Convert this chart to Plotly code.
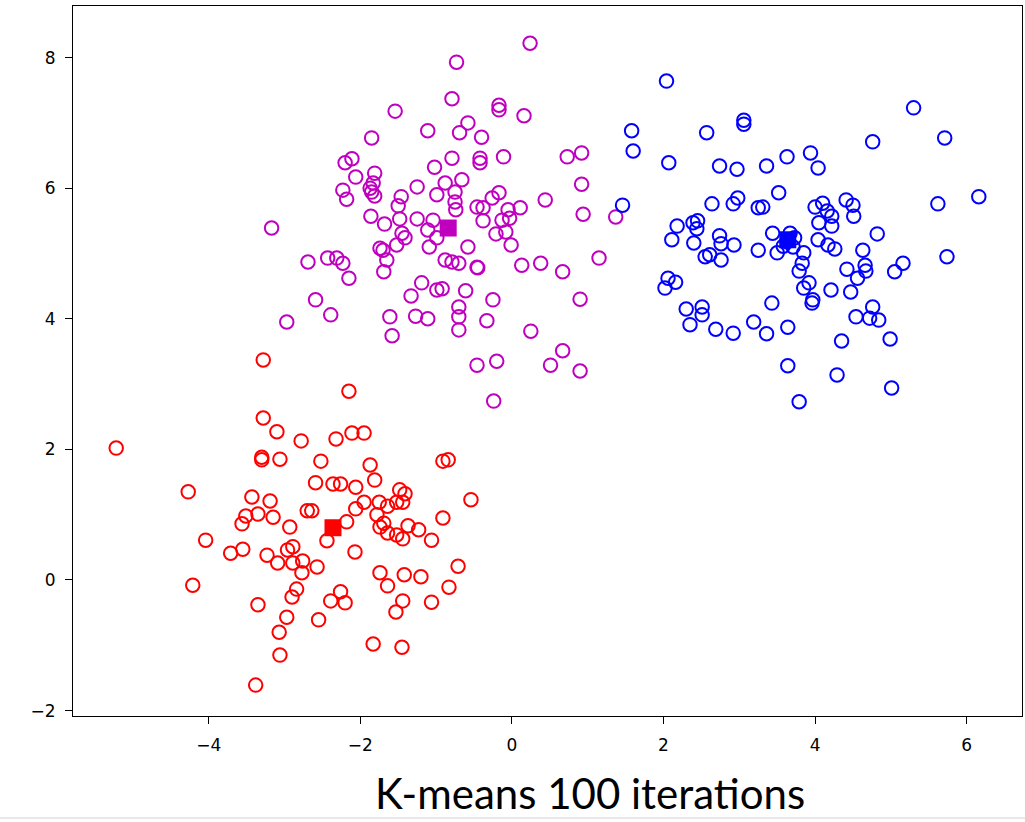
import plotly.graph_objects as go

# Cluster 1 (red)
red_x = [-5.22, -4.27, -4.21, -4.04, -3.71, -3.55, -3.56, -3.51, -3.43, -3.35,
         -3.30, -3.30, -3.28, -3.28, -3.19, -3.15, -3.10, -3.06, -3.23, -3.09,
         -2.96, -2.89, -2.93, -2.89, -2.76, -2.77, -2.57, -2.44, -2.84, -2.90,
         -2.39, -2.26, -2.20, -3.35, -2.97, -2.55, -3.07, -3.06, -3.38, -2.78,
         -2.32, -2.11, -1.95, -2.15, -2.52, -1.87, -2.59, -2.36, -2.26, -2.06,
         -1.81, -0.91, -0.84, -1.48, -1.41, -1.44, -1.52, -1.95, -1.75, -1.64,
         -2.06, -2.70, -2.64, -0.54, -0.91, -1.78, -2.18, -1.74, -1.69, -1.37,
         -1.23, -1.64, -1.52, -1.44, -1.06, -2.07, -1.74, -1.64, -1.42, -1.20,
         -0.71, -0.83, -1.44, -1.53, -1.06, -1.83, -1.45]
red_y = [2.02, 1.35, -0.08, 0.61, 0.41, 0.47, 0.86, 0.98, 1.27, 1.01,
         1.88, 1.84, 3.37, 2.48, 1.21, 0.96, 2.27, 1.85, 0.38, 0.26,
         0.46, 0.51, 0.81, 0.26, 0.29, 0.11, 0.20, 0.60, -0.14, -0.26,
         -0.32, -0.18, -0.35, -0.38, -0.57, -0.61, -0.80, -1.15, -1.61, 2.13,
         2.16, 2.25, 2.25, 2.89, 1.82, 1.76, 1.49, 1.47, 1.47, 1.42,
         1.53, 1.82, 1.84, 1.38, 1.32, 1.19, 1.19, 1.19, 1.19, 1.13,
         1.09, 1.06, 1.06, 1.23, 0.95, 1.00, 0.89, 0.81, 0.87, 0.83,
         0.77, 0.72, 0.69, 0.63, 0.61, 0.43, 0.11, -0.09, 0.08, 0.05,
         0.21, -0.11, -0.32, -0.49, -0.34, -0.98, -1.03]

# Cluster 2 (magenta)
mag_x = [0.24, -0.73, -0.79, -0.17, -0.17, 0.16, -1.54, -1.85, -1.11, -0.58,
         -0.69, -0.40, -2.20, -2.11, -1.81, -1.02, -2.06, -1.83, -1.87, -1.85,
         -1.81, -2.23, -2.18, -1.25, -0.99, -1.46, -1.50, -1.86, -1.68, -1.48,
         -1.25, -1.04, -3.17, -0.79, -0.42, -0.42, -0.11, 0.73, 0.92, -0.88,
         -0.66, -0.75, -0.75, -0.74, -0.46, -0.38, -0.26, -0.17, 0.11, 0.44,
         0.92, -0.05, -0.03, -0.38, -0.13, 0.94, 1.37, -2.69, -2.43, -2.31,
         -2.23, -2.15, -2.59, -2.39, -2.97, -1.45, -1.41, -1.52, -1.74, -1.70,
         -1.65, -1.69, -1.19, -1.33, -0.99, -1.61, -1.27, -1.11, -1.58, -1.11,
         -1.09, -0.99, -0.88, -0.79, -0.70, -0.58, -0.46, -0.45, -0.21, -0.08,
         -0.01, 0.13, 0.38, 0.67, 1.15, -0.92, -0.61, -0.25, 0.90, -0.70,
         -0.70, -0.70, -0.33, 0.25, 0.67, 0.51, 0.90, -0.46, -0.20, -0.24]
mag_y = [8.22, 7.93, 7.37, 7.27, 7.20, 7.11, 7.18, 6.77, 6.88, 7.00,
         6.85, 6.78, 6.39, 6.45, 6.23, 6.32, 6.17, 6.08, 6.00, 5.94,
         5.88, 5.97, 5.83, 6.02, 5.90, 5.87, 5.73, 5.57, 5.45, 5.53,
         5.53, 5.51, 5.39, 6.46, 6.46, 6.39, 6.48, 6.48, 6.54, 6.08,
         6.13, 5.94, 5.79, 5.67, 5.71, 5.70, 5.85, 5.93, 5.70, 5.82,
         6.06, 5.67, 5.54, 5.50, 5.51, 5.60, 5.56, 4.87, 4.93, 4.93,
         4.85, 4.62, 4.29, 4.06, 3.95, 5.31, 5.24, 5.13, 5.08, 5.05,
         4.90, 4.72, 4.55, 4.35, 4.44, 4.03, 4.04, 4.00, 3.74, 5.36,
         5.10, 5.24, 4.90, 4.87, 4.85, 5.10, 4.79, 4.78, 5.30, 5.33,
         5.13, 4.82, 4.85, 4.72, 4.93, 4.46, 4.43, 4.29, 4.30, 4.18,
         4.03, 3.83, 3.97, 3.81, 3.51, 3.29, 3.20, 3.29, 3.35, 2.74]

# Cluster 3 (blue)
blue_x = [2.04, 3.06, 3.06, 1.58, 2.57, 1.60, 2.07, 2.74, 2.97, 3.36,
          3.63, 1.46, 2.64, 2.92, 2.98, 3.25, 3.31, 3.52, 2.18, 2.11,
          2.39, 2.45, 2.44, 2.40, 2.74, 2.76, 2.93, 3.25, 3.44, 2.55,
          2.61, 2.76, 3.50, 5.30, 4.76, 5.71, 3.94, 4.04, 6.16, 5.62,
          4.00, 4.10, 4.16, 4.22, 4.41, 4.50, 4.51, 4.05, 4.22, 4.82,
          3.63, 3.71, 4.04, 4.17, 4.26, 4.63, 3.85, 3.83, 3.79, 4.42,
          4.66, 4.67, 4.56, 5.05, 5.16, 5.74, 3.92, 3.85, 4.21, 4.47,
          2.06, 2.16, 2.02, 2.30, 2.51, 2.51, 2.35, 2.69, 2.92, 3.19,
          3.36, 3.43, 3.64, 3.64, 3.79, 3.96, 3.97, 4.76, 4.54, 4.72,
          4.84, 4.35, 4.99, 4.29, 5.01, 3.67, 3.73, 3.58]
blue_y = [7.64, 7.04, 6.98, 6.88, 6.85, 6.57, 6.39, 6.34, 6.29, 6.34,
          6.48, 5.74, 5.76, 5.76, 5.85, 5.70, 5.71, 5.93, 5.42, 5.21,
          5.47, 5.50, 5.38, 5.16, 5.27, 5.15, 5.13, 5.05, 5.31, 4.95,
          4.98, 4.90, 5.01, 7.23, 6.71, 6.77, 6.54, 6.31, 5.87, 5.76,
          5.71, 5.77, 5.65, 5.57, 5.82, 5.74, 5.57, 5.47, 5.42, 5.30,
          5.18, 5.10, 5.21, 5.13, 5.07, 5.05, 5.01, 4.85, 4.73, 4.76,
          4.82, 4.73, 4.62, 4.72, 4.85, 4.95, 4.55, 4.47, 4.44, 4.41,
          4.62, 4.56, 4.47, 4.15, 4.18, 4.06, 3.91, 3.84, 3.78, 3.95,
          3.77, 4.24, 3.87, 3.28, 2.73, 4.24, 4.29, 4.18, 4.03, 4.01,
          3.98, 3.66, 3.69, 3.14, 2.94, 5.31, 5.24, 5.11]

# Final centroids after 100 iterations
centroid_x = [-2.36, -0.84, 3.64]
centroid_y = [0.80, 5.39, 5.21]

cluster_colors = ["#ff0000", "#bf00bf", "#0000ff"]
caption = "K-means 100 iterations"

x_ticks = [-4, -2, 0, 2, 4, 6]
y_ticks = [-2, 0, 2, 4, 6, 8]


def tick_text(vals):
    return [("\u2212" + str(abs(v))) if v < 0 else str(v) for v in vals]


fig = go.Figure()

for xs, ys, col in [(red_x, red_y, cluster_colors[0]),
                    (mag_x, mag_y, cluster_colors[1]),
                    (blue_x, blue_y, cluster_colors[2])]:
    fig.add_trace(go.Scatter(
        x=xs, y=ys, mode="markers",
        marker=dict(symbol="circle-open", size=13.5, color=col,
                    line=dict(width=2, color=col)),
        showlegend=False, hoverinfo="x+y"))

fig.add_trace(go.Scatter(
    x=centroid_x, y=centroid_y, mode="markers",
    marker=dict(symbol="square", size=17, color=cluster_colors,
                line=dict(width=0)),
    showlegend=False))

axis_common = dict(
    showgrid=False, zeroline=False, showline=True, mirror=True,
    linecolor="black", linewidth=1.2, ticks="outside", ticklen=7,
    tickwidth=1.2, tickcolor="black", ticklabelstandoff=6,
    tickfont=dict(family="DejaVu Sans", size=17, color="black"))

fig.update_layout(
    width=1025, height=822,
    margin=dict(l=73, r=3, t=6, b=106),
    paper_bgcolor="white", plot_bgcolor="white",
    xaxis=dict(range=[-5.79, 6.73], tickvals=x_ticks,
               ticktext=tick_text(x_ticks), **axis_common),
    yaxis=dict(range=[-2.083, 8.79], tickvals=y_ticks,
               ticktext=tick_text(y_ticks), **axis_common),
    annotations=[dict(
        text=caption, xref="paper", yref="paper", x=0.545, y=-0.109,
        xanchor="center", yanchor="middle", showarrow=False,
        font=dict(family="Lato", size=42, color="black"))],
    shapes=[dict(type="line", xref="paper", yref="paper",
                 x0=-0.08, x1=1.01, y0=-0.1437, y1=-0.1437,
                 line=dict(color="#d0d0d0", width=1))],
)

fig.write_html("out.html")
